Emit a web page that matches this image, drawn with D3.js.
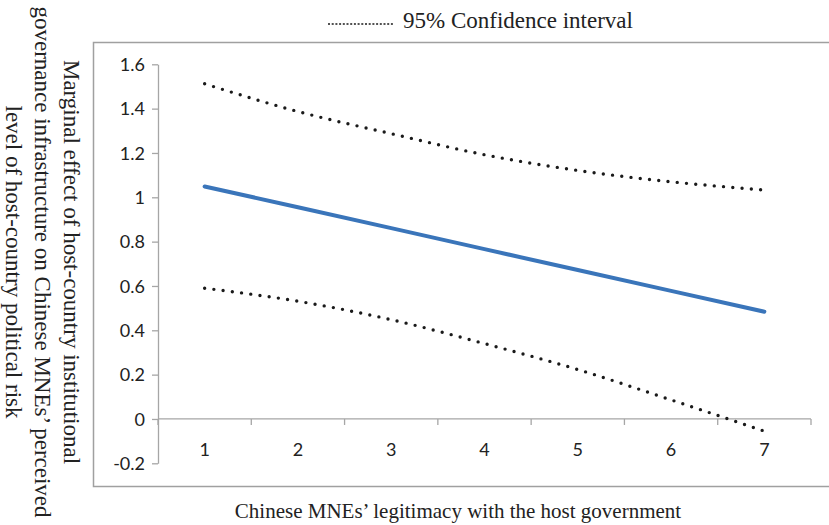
<!DOCTYPE html>
<html>
<head>
<meta charset="utf-8">
<script src="https://cdn.jsdelivr.net/npm/d3@7"></script>
<style>
  html, body { margin: 0; padding: 0; background: #fff; }
  svg { display: block; }
</style>
</head>
<body>
<svg id="chart" width="829" height="525"></svg>
<script>
// Legitimacy levels (x categories)
const legitimacy = [1, 2, 3, 4, 5, 6, 7];
// Marginal effect estimate
const marginalEffect = [1.049, 0.955, 0.861, 0.766, 0.672, 0.578, 0.484];
// 95% confidence bounds
const upperCI = [1.512, 1.387, 1.287, 1.192, 1.121, 1.070, 1.033];
const lowerCI = [0.590, 0.531, 0.448, 0.340, 0.223, 0.086, -0.055];
// Y axis tick values and labels
const yTicks = [-0.2, 0, 0.2, 0.4, 0.6, 0.8, 1, 1.2, 1.4, 1.6];
const yTickLabels = ["-0.2", "0", "0.2", "0.4", "0.6", "0.8", "1", "1.2", "1.4", "1.6"];

const svg = d3.select("#chart");
const serif = "'Liberation Serif', 'Times New Roman', serif";
const sans = "Lato, 'Open Sans', sans-serif";
const axisGray = "#a6a6a6";

// Outer chart frame
svg.append("rect")
  .attr("x", 93.5).attr("y", 42.5)
  .attr("width", 760).attr("height", 444)
  .attr("fill", "none").attr("stroke", "#a0a0a0").attr("stroke-width", 1.5);

const x = d3.scaleBand().domain(legitimacy).range([158, 811]);
const y = d3.scaleLinear().domain([-0.2, 1.6]).range([463.3, 64.3]);
const cx = d => x(d) + x.bandwidth() / 2;

// Y axis
const yAxis = svg.append("g")
  .attr("transform", "translate(158,0)")
  .call(d3.axisLeft(y).tickValues(yTicks).tickSize(6).tickSizeOuter(0)
    .tickFormat((d, i) => yTickLabels[i]));
yAxis.select(".domain").attr("stroke", axisGray).attr("stroke-width", 1.3);
yAxis.selectAll(".tick line").attr("stroke", axisGray).attr("stroke-width", 1.3);
yAxis.selectAll(".tick text")
  .attr("x", -13).attr("dy", "0.35em")
  .attr("font-family", sans).attr("font-size", 18).attr("fill", "#222");

// X axis at zero, ticks between categories
const xAxisG = svg.append("g").attr("transform", `translate(0,${y(0)})`);
xAxisG.append("line")
  .attr("x1", 158).attr("x2", 811)
  .attr("stroke", axisGray).attr("stroke-width", 1.3);
const bounds = legitimacy.map(d => x(d)).concat([x(7) + x.bandwidth()]);
xAxisG.selectAll(".xt").data(bounds).join("line")
  .attr("x1", d => d).attr("x2", d => d)
  .attr("y1", 0).attr("y2", 6)
  .attr("stroke", axisGray).attr("stroke-width", 1.3);
svg.append("g").selectAll("text").data(legitimacy).join("text")
  .attr("x", d => cx(d)).attr("y", 456)
  .attr("text-anchor", "middle")
  .attr("font-family", sans).attr("font-size", 18).attr("fill", "#222")
  .text(d => d);

// Confidence bounds (dotted)
const ciLine = d3.line().x((d, i) => cx(legitimacy[i])).y(d => y(d)).curve(d3.curveMonotoneX);
[upperCI, lowerCI].forEach(series => {
  svg.append("path")
    .attr("d", ciLine(series))
    .attr("fill", "none").attr("stroke", "#1a1a1a")
    .attr("stroke-width", 3.4).attr("stroke-linecap", "round")
    .attr("stroke-dasharray", "0 9.3");
});

// Marginal effect line
const effLine = d3.line().x((d, i) => cx(legitimacy[i])).y(d => y(d));
svg.append("path")
  .attr("d", effLine(marginalEffect))
  .attr("fill", "none").attr("stroke", "#3a75ba")
  .attr("stroke-width", 4).attr("stroke-linecap", "round");

// Legend
svg.append("line")
  .attr("x1", 328).attr("x2", 394).attr("y1", 24).attr("y2", 24)
  .attr("stroke", "#1a1a1a").attr("stroke-width", 1.5)
  .attr("stroke-dasharray", "2 1.7");
svg.append("text")
  .attr("x", 403).attr("y", 28)
  .attr("font-family", serif).attr("font-size", 23).attr("fill", "#222")
  .text("95% Confidence interval");

// X axis title
svg.append("text")
  .attr("x", 458).attr("y", 518)
  .attr("text-anchor", "middle")
  .attr("font-family", serif).attr("font-size", 21).attr("fill", "#222")
  .text("Chinese MNEs’ legitimacy with the host government");

// Y axis title (rotated, reading downward)
const yTitle = svg.append("text")
  .attr("transform", "translate(64,262) rotate(90)")
  .attr("text-anchor", "middle")
  .attr("font-family", serif).attr("font-size", 23).attr("fill", "#222");
["Marginal effect of host-country institutional",
 "governance infrastructure on Chinese MNEs’ perceived",
 "level of host-country political risk"].forEach((t, i) => {
  yTitle.append("tspan").attr("x", 0).attr("dy", i === 0 ? 0 : 29).text(t);
});
</script>
</body>
</html>
